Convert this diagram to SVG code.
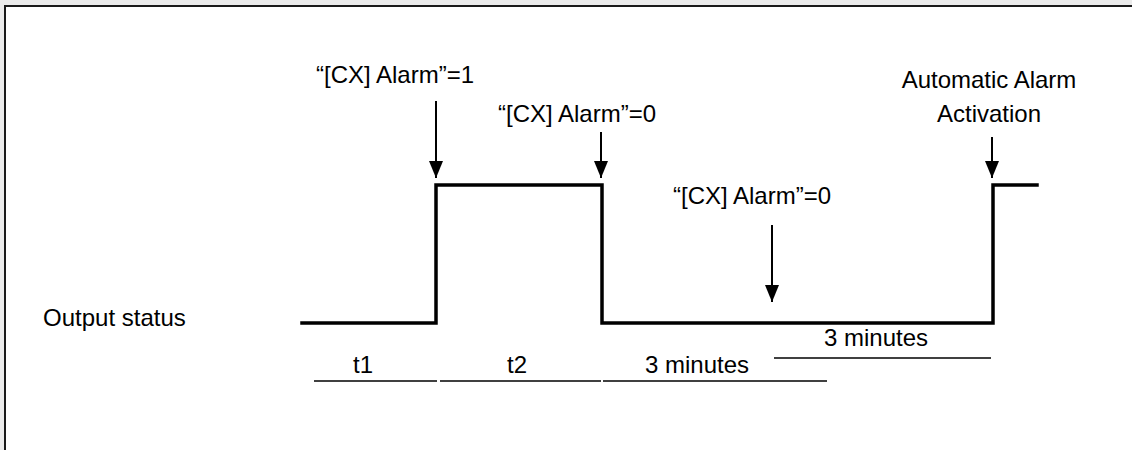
<svg xmlns="http://www.w3.org/2000/svg" width="1132" height="450" viewBox="0 0 1132 450">
<defs>
<marker id="ah" viewBox="0 0 17 14" refX="17" refY="7" markerWidth="17" markerHeight="14" markerUnits="userSpaceOnUse" orient="auto">
<path d="M0,0 L17,7 L0,14 Z" fill="#000"/>
</marker>
<style>
text{font-family:"Liberation Sans",Arial,sans-serif;font-size:24px;fill:#000}
.c{text-anchor:middle}
.arr{stroke:#000;stroke-width:2;fill:none}
.wave{stroke:#000;stroke-width:3.5;fill:none;stroke-linejoin:miter;stroke-linecap:square}
.dim{stroke:#000;stroke-width:1.6}
</style>
</defs>
<rect x="0" y="0" width="1132" height="450" fill="#ebebeb"/>
<rect x="5" y="6" width="1140" height="460" fill="#fff" stroke="#1a1a1a" stroke-width="2"/>
<g id="output-status"><text x="43" y="326">Output status</text></g>
<g id="waveform"><path class="wave" d="M302,323 H436 V185 H602 V323 H993 V185 H1037"/></g>
<g id="label-alarm1"><text class="c" x="395" y="83">“[CX] Alarm”=1</text></g>
<g id="label-alarm0a"><text class="c" x="577" y="122">“[CX] Alarm”=0</text></g>
<g id="label-alarm0b"><text class="c" x="752" y="204">“[CX] Alarm”=0</text></g>
<g id="label-auto"><text class="c" x="989" y="88">Automatic Alarm</text><text class="c" x="989" y="122">Activation</text></g>
<g id="connectors">
<line class="arr" x1="436" y1="101" x2="436" y2="178" marker-end="url(#ah)"/>
<line class="arr" x1="601" y1="132" x2="601" y2="178" marker-end="url(#ah)"/>
<line class="arr" x1="772" y1="225" x2="772" y2="302" marker-end="url(#ah)"/>
<line class="arr" x1="992" y1="137" x2="992" y2="178" marker-end="url(#ah)"/>
</g>
<g id="intervals">
<line class="dim" x1="314" y1="381" x2="437" y2="381"/>
<line class="dim" x1="440" y1="381" x2="601" y2="381"/>
<line class="dim" x1="603" y1="381" x2="827" y2="381"/>
<line class="dim" x1="774" y1="358" x2="991" y2="358"/>
<text class="c" x="363" y="373">t1</text>
<text class="c" x="517" y="373">t2</text>
<text class="c" x="697" y="373">3 minutes</text>
<text class="c" x="876" y="346">3 minutes</text>
</g>
</svg>
